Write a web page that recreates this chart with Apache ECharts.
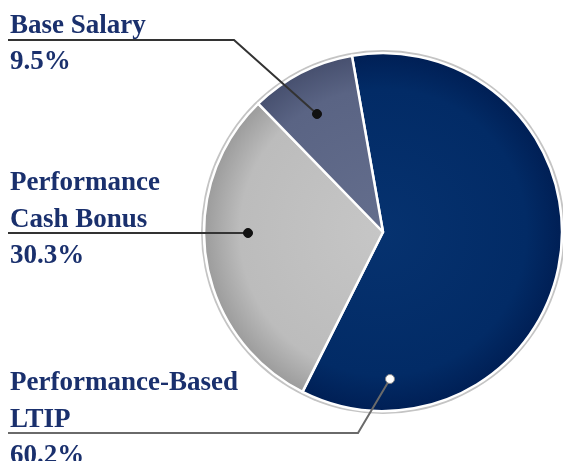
<!DOCTYPE html>
<html>
<head>
<meta charset="utf-8">
<style>html,body{margin:0;padding:0;background:#fff;}#c{width:563px;height:461px;}</style>
<script src="https://cdn.jsdelivr.net/npm/echarts@6/dist/echarts.min.js"></script>
</head>
<body>
<div id="c"></div>
<script>
// ---- data ----
const categories = ['Performance-Based\nLTIP', 'Performance\nCash Bonus', 'Base Salary'];
const values = [60.2, 30.3, 9.5];

// ---- style / layout ----
const CX = 383, CY = 232, R = 179;
const sliceColors = [
  ['#06326f', '#022b66', '#001f55'],
  ['#c6c6c6', '#bcbcbc', '#9c9c9c'],
  ['#646e8d', '#5a6484', '#47506f']
];
// label placement: [dot, elbow, line end], label top
const labelGeom = [
  { pts: [[390, 379], [358, 433], [8, 433]], top: 365, line: '#6a6a6a', dot: '#ffffff', dotStroke: '#888' },
  { pts: [[248, 233], [8, 233]], top: 165, line: '#333', dot: '#111', dotStroke: '#111' },
  { pts: [[317, 114], [234, 40], [8, 40]], top: 8, line: '#333', dot: '#111', dotStroke: '#111' }
];
const textColor = '#1a306d';

const chart = echarts.init(document.getElementById('c'), null, { renderer: 'canvas' });

function grad(c) {
  return new echarts.graphic.RadialGradient(CX, CY, R, [
    { offset: 0, color: c[0] },
    { offset: 0.8, color: c[1] },
    { offset: 1, color: c[2] }
  ], true);
}

const data = categories.map((n, i) => ({
  name: n,
  value: values[i],
  itemStyle: { color: grad(sliceColors[i]) }
}));

const lines = labelGeom.map(g => ({
  type: 'polyline', shape: { points: g.pts },
  style: { stroke: g.line, lineWidth: 2, fill: null }, z: 99, silent: true
}));
const dots = labelGeom.map(g => ({
  type: 'circle', shape: { cx: g.pts[0][0], cy: g.pts[0][1], r: 4.5 },
  style: { fill: g.dot, stroke: g.dotStroke, lineWidth: 1 }, z: 100, silent: true
}));

chart.setOption({
  animation: false,
  graphic: [
    { type: 'circle', shape: { cx: CX, cy: CY, r: R + 3 }, style: { fill: '#c4c4c4' }, z: 0, silent: true }
  ].concat(lines, dots),
  series: [{
    type: 'pie',
    center: [CX, CY],
    radius: [0, R],
    startAngle: 100,
    clockwise: true,
    avoidLabelOverlap: false,
    silent: true,
    z: 2,
    itemStyle: { borderColor: '#ffffff', borderWidth: 2.5 },
    emphasis: { disabled: true },
    label: {
      show: true,
      position: 'outside',
      formatter: p => p.name.split('\n').map(s => '{n|' + s + '}').join('\n') + '\n{p|' + p.value.toFixed(1) + '%}',
      rich: {
        n: { fontFamily: 'Liberation Serif', fontWeight: 'bold', fontSize: 27, color: textColor, lineHeight: 37 },
        p: { fontFamily: 'Liberation Serif', fontWeight: 'bold', fontSize: 27, color: textColor, lineHeight: 35 }
      }
    },
    labelLine: { show: false },
    labelLayout: function (params) {
      const g = labelGeom[params.dataIndex];
      return { x: 10, y: g.top, align: 'left', verticalAlign: 'top' };
    },
    data: data
  }]
});
</script>
</body>
</html>
